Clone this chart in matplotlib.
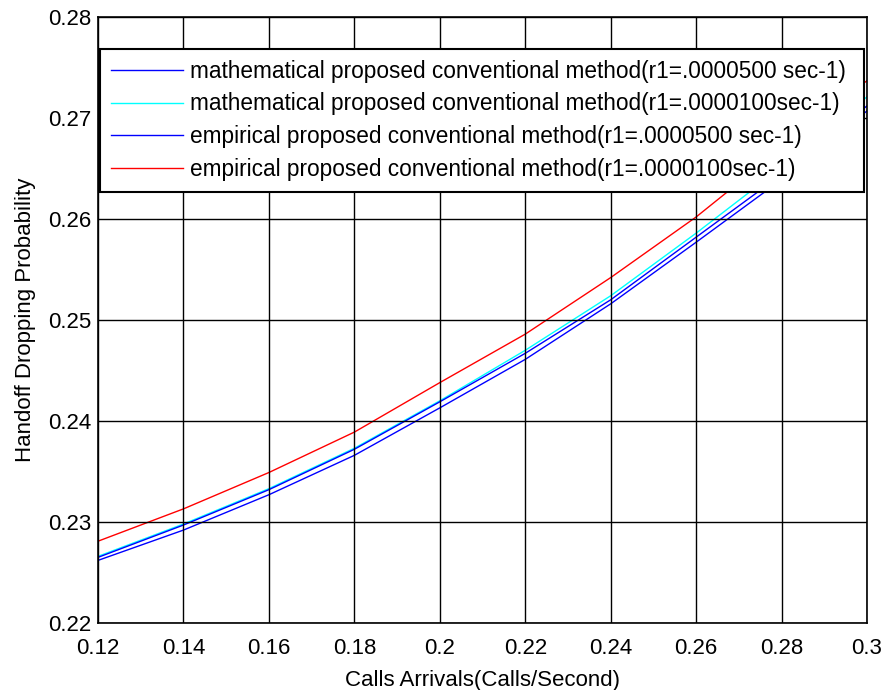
import matplotlib
matplotlib.use("Agg")
import matplotlib.pyplot as plt

plt.rcParams['font.family'] = ['Liberation Sans', 'DejaVu Sans']

# llamadas por segundo
llegadas = [0.12, 0.14, 0.16, 0.18, 0.20, 0.22, 0.24, 0.26, 0.28, 0.30]

mat_500 = [0.2262, 0.2292, 0.2327, 0.2366, 0.2413, 0.2461, 0.2516, 0.2577, 0.2639, 0.2707]
mat_100 = [0.2266, 0.2298, 0.2333, 0.2373, 0.2420, 0.2470, 0.2524, 0.2586, 0.2651, 0.2721]
emp_500 = [0.2265, 0.2297, 0.2332, 0.2372, 0.2419, 0.2467, 0.2520, 0.2582, 0.2644, 0.2712]
emp_100 = [0.2281, 0.2313, 0.2349, 0.2389, 0.2438, 0.2486, 0.2542, 0.2602, 0.2670, 0.2737]

etiquetas = [
    "mathematical proposed conventional method(r1=.0000500 sec-1)",
    "mathematical proposed conventional method(r1=.0000100sec-1)",
    "empirical proposed conventional method(r1=.0000500 sec-1)",
    "empirical proposed conventional method(r1=.0000100sec-1)",
]
colores = ['#0000ff', '#00ffff', '#0000ff', '#ff0000']

xticks = [0.12, 0.14, 0.16, 0.18, 0.2, 0.22, 0.24, 0.26, 0.28, 0.3]
xtick_labels = ['0.12', '0.14', '0.16', '0.18', '0.2', '0.22', '0.24', '0.26', '0.28', '0.3']
yticks = [0.22, 0.23, 0.24, 0.25, 0.26, 0.27, 0.28]
ytick_labels = ['0.22', '0.23', '0.24', '0.25', '0.26', '0.27', '0.28']

fig = plt.figure(figsize=(8.88, 6.90), dpi=100)
ax = fig.add_axes([0.1104, 0.0971, 0.866, 0.8783])

series = [mat_500, mat_100, emp_500, emp_100]
for datos, col, lab in zip(series, colores, etiquetas):
    ax.plot(llegadas, datos, color=col, lw=1.0, label=lab)

ax.set_xlim(0.12, 0.3)
ax.set_ylim(0.22, 0.28)
ax.set_xticks(xticks)
ax.set_xticklabels(xtick_labels)
ax.set_yticks(yticks)
ax.set_yticklabels(ytick_labels)
ax.tick_params(direction='in', labelsize=16, length=0, colors='black')
ax.tick_params(axis='x', pad=11)
ax.tick_params(axis='y', pad=4.5)
ax.grid(True, color='black', linestyle='-', linewidth=1.0)
ax.set_axisbelow(False)
for sp in ax.spines.values():
    sp.set_linewidth(1.2)
    sp.set_color('black')

ax.set_xlabel('Calls Arrivals(Calls/Second)', fontsize=16, labelpad=8)
ax.set_ylabel('Handoff Dropping Probability', fontsize=16, labelpad=9)

leg = ax.legend(loc='upper left', bbox_to_anchor=(0.0026, 0.718, 0.9935, 0.229),
                mode='expand', borderaxespad=0, fontsize=16.3, handlelength=3.2,
                handletextpad=0.32, labelspacing=0.43, fancybox=False,
                framealpha=1, edgecolor='black', borderpad=0.47)
leg.get_frame().set_linewidth(1.5)
leg.set_zorder(5)

fig.savefig('out.png', dpi=100)
